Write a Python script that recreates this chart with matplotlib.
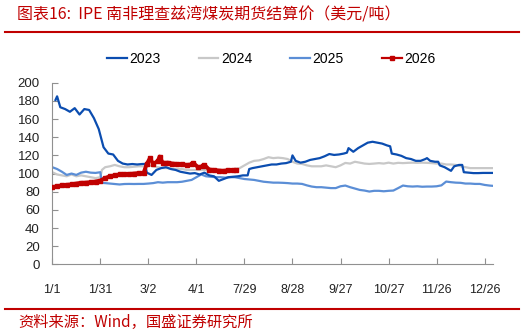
import matplotlib
matplotlib.use("Agg")
import matplotlib.pyplot as plt
from matplotlib.lines import Line2D

plt.rcParams['font.family'] = ['Liberation Sans', 'Noto Sans CJK SC', 'DejaVu Sans']

title = "图表16:  IPE 南非理查兹湾煤炭期货结算价（美元/吨）"
source = "资料来源：Wind，国盛证券研究所"

tick_pos = [0, 30, 60, 90, 120, 150, 180, 210, 240, 270]
tick_labels = ["1/1", "1/31", "3/2", "4/1", "7/29", "8/28", "9/27", "10/27", "11/26", "12/26"]

x2023 = [2, 3, 5, 8, 11, 14, 17, 20, 23, 26, 29, 32, 35, 38, 41, 44, 47, 50, 53, 56, 58, 59, 62, 65, 68,
         71, 74, 77, 80, 83, 86, 89, 92, 95, 98, 101, 104, 107, 110, 113, 116, 119, 122, 123, 125, 128,
         131, 134, 137, 140, 143, 146, 149, 150, 152, 155, 158, 161, 164, 167, 170, 173, 176, 179, 182,
         184, 185, 188, 191, 194, 197, 200, 203, 206, 209, 211, 212, 215, 218, 221, 224, 227, 230, 233,
         234, 236, 239, 241, 242, 245, 248, 249, 251, 254, 255, 256, 257, 260, 263, 266, 269, 272, 275]
y2023 = [181, 185, 173, 171, 168, 172, 165, 171, 170, 161, 149, 129, 122, 121, 114, 111, 110, 110.5, 110,
         110.5, 110.6, 101, 98.5, 104, 106, 107, 105, 104, 102, 101, 100, 100.5, 99, 101, 98, 97, 92, 94,
         96, 96.5, 97, 98, 98, 105, 106, 107, 108, 109, 110, 110, 111, 111.5, 113, 120, 114, 112, 113, 115,
         116, 117, 119, 121.5, 120.5, 121, 122, 123, 128, 124, 128, 131, 134, 135, 134, 133, 131, 130,
         122, 121, 119.5, 117, 116, 114, 114, 116, 117, 114, 113, 113, 109, 107, 104, 103, 108, 109.5,
         109.5, 109.5, 101.5, 101, 100.5, 100.5, 100.7, 100.7, 100.7]

x2024 = [0, 3, 6, 9, 12, 15, 18, 21, 24, 27, 30, 31, 33, 36, 39, 42, 45, 48, 51, 54, 57, 60, 63, 66, 69,
         72, 75, 78, 81, 84, 87, 90, 93, 96, 99, 102, 105, 108, 111, 114, 117, 120, 123, 126, 129, 132,
         135, 138, 141, 144, 147, 150, 153, 156, 159, 162, 165, 168, 171, 174, 177, 180, 183, 186, 189,
         192, 195, 198, 201, 204, 207, 210, 213, 216, 219, 222, 225, 228, 231, 234, 237, 240, 243, 246,
         249, 252, 255, 258, 261, 264, 267, 270, 273, 275]
y2024 = [101.5, 99, 98, 97, 99, 97, 98, 97, 96, 95, 96, 104, 107, 108, 109.5, 108, 107, 107, 107.5, 108,
         108, 109, 108, 107, 106, 106, 105, 105, 105, 104, 104, 104, 104, 104, 103, 103, 103.5, 104, 104,
         105, 106, 109, 112, 114, 114.5, 116, 118, 117, 117.5, 117, 116, 113, 111, 110.6, 109, 108, 108,
         108, 109, 108, 107, 109, 111.7, 111, 113, 112, 111, 110.6, 111, 111.5, 111, 112, 111, 111.8,
         111.5, 111.8, 112, 111.8, 112, 111.8, 111.5, 111, 111, 110, 110, 109.5, 108, 107, 106, 106, 106,
         106, 106, 106]

x2025 = [0, 3, 6, 9, 12, 15, 18, 21, 24, 27, 30, 31, 33, 36, 39, 42, 45, 48, 51, 54, 57, 60, 63, 66, 69,
         72, 75, 78, 81, 84, 87, 90, 93, 96, 99, 102, 105, 108, 111, 114, 117, 120, 123, 126, 129, 132,
         135, 138, 141, 144, 147, 150, 153, 156, 159, 162, 165, 168, 171, 174, 177, 180, 183, 186, 189,
         192, 195, 198, 201, 204, 207, 210, 213, 216, 219, 222, 225, 228, 231, 234, 237, 240, 243, 246,
         249, 252, 255, 258, 261, 264, 267, 270, 273, 275]
y2025 = [107, 105, 102, 98.5, 100, 98.5, 101, 102, 101, 100.7, 101.5, 89.7, 89.5, 89, 88.5, 88, 88.5, 88.6,
         88.5, 88.6, 88.6, 89, 89.5, 90.5, 90, 90.5, 90.5, 90.5, 91, 92, 93, 96, 99, 97, 96.5, 96, 96,
         95.5, 96, 96, 95, 94, 93.5, 93, 92, 91, 90.5, 90, 90, 89.8, 89.5, 89, 89, 88.6, 87, 85.7, 85, 85,
         84.5, 84, 84, 86, 86.8, 85, 83.5, 82, 81.3, 80.2, 81, 81, 80.5, 81, 81.3, 84, 86.8, 86, 85.7, 86,
         85.5, 85.7, 85.7, 86, 87, 91.2, 90.5, 90, 89.8, 89, 89, 88.6, 88.6, 87.5, 86.8, 86.5]

x2026 = [0, 3, 6, 9, 12, 15, 18, 21, 24, 27, 30, 33, 36, 39, 42, 45, 48, 51, 54, 57, 59, 61, 63, 66, 67,
         69, 72, 75, 78, 81, 84, 87, 88, 91, 94, 95, 98, 101, 104, 107, 110, 113, 115]
y2026 = [85, 86, 87, 87.6, 88, 89, 89.8, 90, 90.5, 91.2, 92.3, 95, 97, 98, 99, 99.6, 99.6, 100, 100.5,
         100.7, 110.6, 117, 110.6, 114, 118.7, 111.8, 112, 111, 110.6, 110, 109.5, 110, 111.8, 107, 108,
         109.5, 104.4, 104, 103.3, 103, 103.5, 104, 104]

RED = "#C00000"

fig = plt.figure(figsize=(5.32, 3.35), dpi=100)
ax = fig.add_axes([0.0983, 0.2107, 0.8277, 0.5424])

ax.plot(x2023, y2023, color="#0B4DB0", lw=1.6, label="2023", zorder=3)
ax.plot(x2024, y2024, color="#C8C8C8", lw=1.6, label="2024", zorder=2)
ax.plot(x2025, y2025, color="#5B8ED6", lw=1.6, label="2025", zorder=2)
ax.plot(x2026, y2026, color=RED, lw=2.8, marker="s", ms=3.4, label="2026", zorder=4)

ax.set_xlim(0, 275)
ax.set_ylim(0, 200)
ax.set_yticks(range(0, 201, 20))
ax.set_xticks(tick_pos)
ax.set_xticklabels(tick_labels)
for s in ["top", "right"]:
    ax.spines[s].set_visible(False)
for s in ["left", "bottom"]:
    ax.spines[s].set_color("#909090")
    ax.spines[s].set_linewidth(0.8)
ax.tick_params(axis="x", direction="in", length=4, color="#909090", labelsize=9, pad=14, labelcolor="#222222")
ax.tick_params(axis="y", direction="in", length=4, color="#909090", labelsize=9.5, pad=9, labelcolor="#222222")

handles = [
    Line2D([], [], color="#0B4DB0", lw=1.6),
    Line2D([], [], color="#C8C8C8", lw=1.6),
    Line2D([], [], color="#5B8ED6", lw=1.6),
    Line2D([], [], color=RED, lw=1.6, marker="s", ms=2.5),
]
fig.legend(handles, ["2023", "2024", "2025", "2026"], loc="center", bbox_to_anchor=(0.51, 0.825),
           ncol=4, frameon=False, fontsize=10, handlelength=1.4, handletextpad=0.2,
           columnspacing=2.75)

cjk = ['Noto Sans CJK SC', 'DejaVu Sans']
fig.text(0.032, 0.955, title, color=RED, fontsize=11.5, family=cjk, va="center", ha="left")
fig.add_artist(Line2D([0.01, 0.975], [0.905, 0.905], color=RED, lw=1.5, transform=fig.transFigure))
fig.add_artist(Line2D([0.01, 0.975], [0.078, 0.078], color=RED, lw=1.5, transform=fig.transFigure))
fig.text(0.034, 0.036, source, color=RED, fontsize=11, family=cjk, va="center", ha="left")

fig.savefig("out.png", dpi=100)
